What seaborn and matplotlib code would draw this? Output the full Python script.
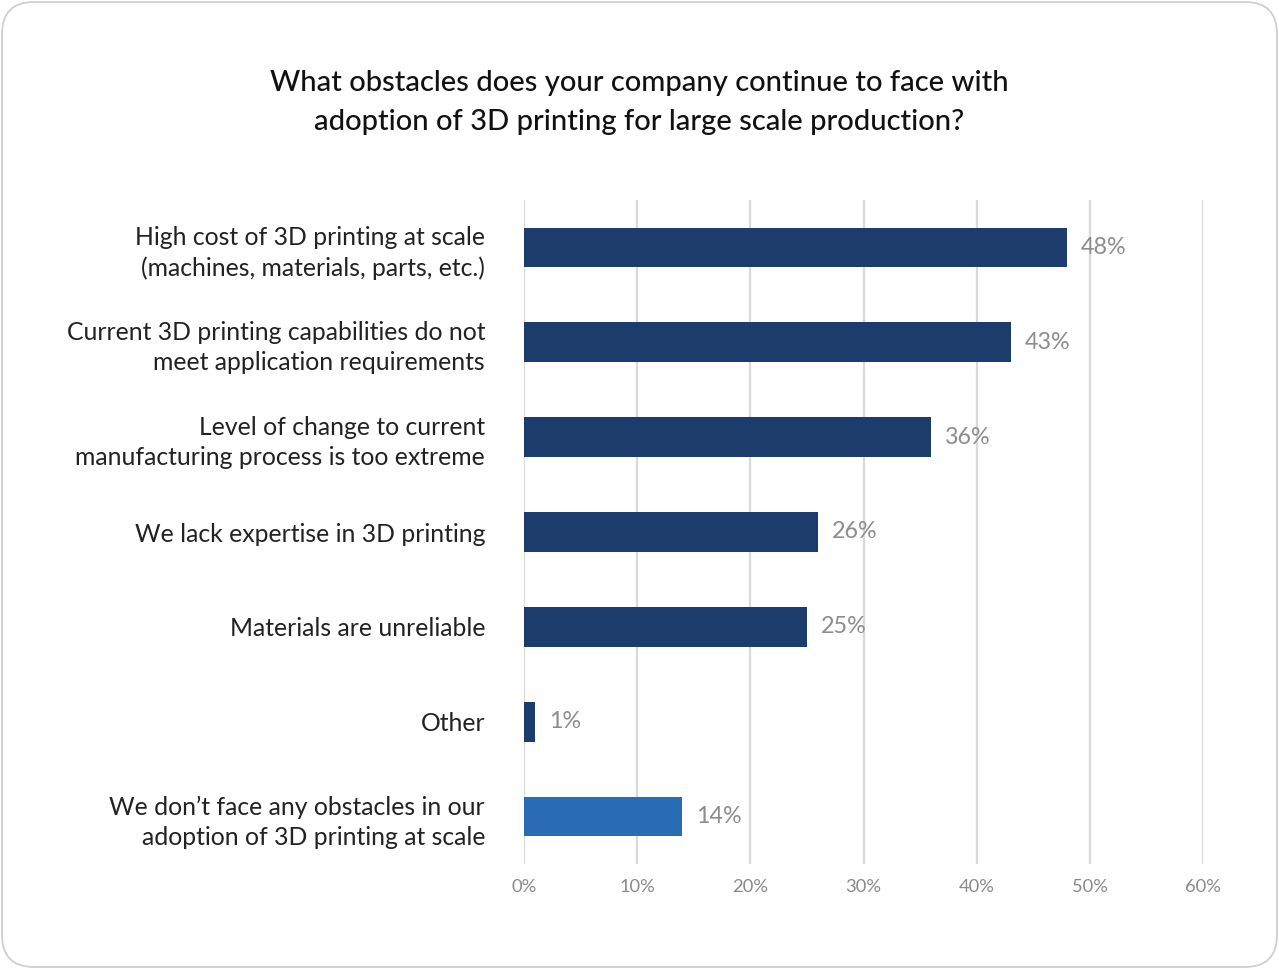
import matplotlib
matplotlib.use("Agg")
import matplotlib.pyplot as plt
from matplotlib.patches import FancyBboxPatch
import seaborn as sns
import pandas as pd

categories = [
    "High cost of 3D printing at scale\n(machines, materials, parts, etc.)",
    "Current 3D printing capabilities do not\nmeet application requirements",
    "Level of change to current\nmanufacturing process is too extreme",
    "We lack expertise in 3D printing",
    "Materials are unreliable",
    "Other",
    "We don\u2019t face any obstacles in our\nadoption of 3D printing at scale",
]
values = [48, 43, 36, 26, 25, 1, 14]
bar_colors = ["#1c3c6b", "#1c3c6b", "#1c3c6b", "#1c3c6b", "#1c3c6b", "#1c3c6b", "#2a6bb6"]
x_ticks = [0, 10, 20, 30, 40, 50, 60]
title = ("What obstacles does your company continue to face with\n"
         "adoption of 3D printing for large scale production?")

sns.set_theme(style="white")
plt.rcParams["font.family"] = ["Lato", "DejaVu Sans"]

W, H = 1279, 969
fig = plt.figure(figsize=(W / 100, H / 100), dpi=100)

# Rounded card frame behind the chart
bg = fig.add_axes([0, 0, 1, 1], zorder=0)
bg.set_xlim(0, W)
bg.set_ylim(0, H)
bg.axis("off")
bg.add_patch(FancyBboxPatch((2, 2), W - 4, H - 4,
                            boxstyle="round,pad=0,rounding_size=32",
                            facecolor="white", edgecolor="#cfcfcf", linewidth=1.3))

ax = fig.add_axes([524 / W, 1 - 864 / H, (1203 - 524) / W, (864 - 200) / H], zorder=1)
ax.patch.set_alpha(0)

df = pd.DataFrame({"category": categories, "value": values})
sns.barplot(data=df, x="value", y="category", hue="category",
            palette=bar_colors, legend=False, width=0.42, ax=ax,
            saturation=1, edgecolor="none")

ax.set_xlim(0, 60)
ax.set_ylim(6.5, -0.5)
ax.set_xticks(x_ticks)
ax.set_xticklabels([f"{t}%" for t in x_ticks], color="#8a8a8a", fontsize=13.2)
ax.tick_params(axis="x", length=0, pad=11)
ax.tick_params(axis="y", length=0, pad=28)
for lbl in ax.get_yticklabels():
    lbl.set_fontsize(17.8)
    lbl.set_color("#222222")
    lbl.set_linespacing(1.36)
ax.set_xlabel("")
ax.set_ylabel("")
for s in ax.spines.values():
    s.set_visible(False)
ax.xaxis.grid(True, color="#d9d9d9", linewidth=1.6)
ax.set_axisbelow(True)

for i, v in enumerate(values):
    ax.annotate(f"{v}%", xy=(v, i), xytext=(10, 0), textcoords="offset points",
                va="center", ha="left", color="#8c8c8c", fontsize=16.8)

fig.text(0.5, 1 - 102.5 / H, title, ha="center", va="center", fontsize=21,
         fontweight="medium", color="#111111", linespacing=1.6)

fig.savefig("out.png", dpi=100)
